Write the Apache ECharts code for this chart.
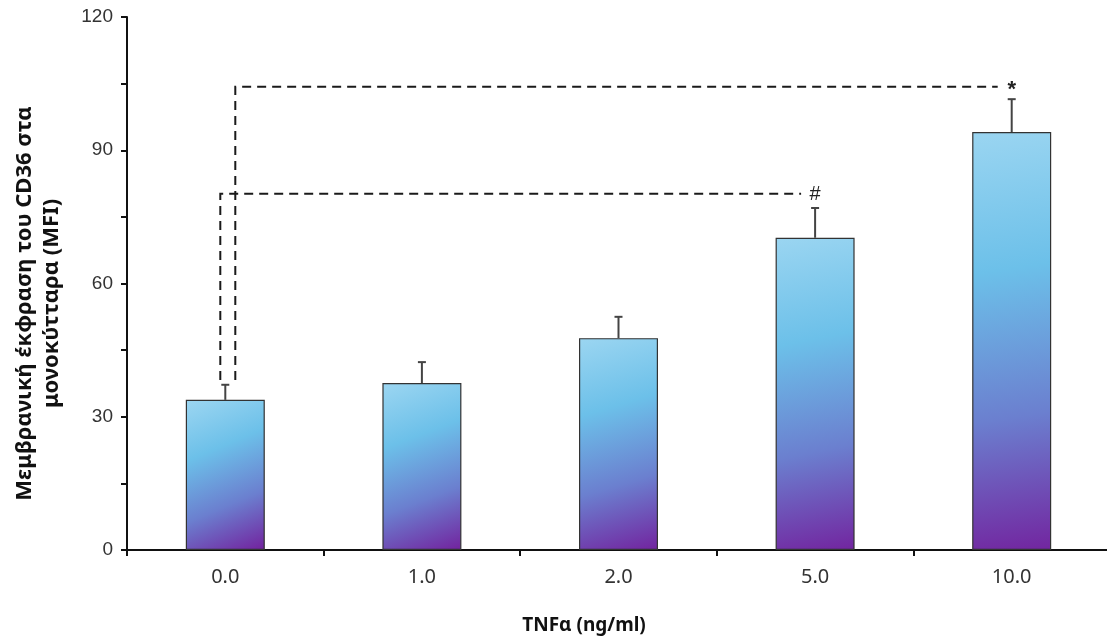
<!DOCTYPE html>
<html>
<head>
<meta charset="utf-8">
<script src="https://cdn.jsdelivr.net/npm/echarts@6/dist/echarts.min.js"></script>
<style>
  html, body { margin: 0; padding: 0; background: #fff; }
  #chart { width: 1107px; height: 638px; }
</style>
</head>
<body>
<div id="chart"></div>
<script>
// TNFα dose (ng/ml) vs CD36 membrane expression (MFI)
const doses = ['0.0', '1.0', '2.0', '5.0', '10.0'];
const means = [33.8, 37.6, 47.7, 70.3, 94.1];
const errors = [3.4, 4.7, 4.8, 6.7, 7.4];

// significance brackets, all starting from the 0.0 group
const bracketTo = [3, 4];
const bracketLevel = [80.2, 104.3];
const bracketBase = 38.3;
const bracketMarks = ['#', '*'];

const yTicks = [0, 30, 60, 90, 120];

const chart = echarts.init(document.getElementById('chart'));

const barGradient = new echarts.graphic.LinearGradient(0.1, 0, 0.9, 1, [
  { offset: 0, color: '#9ad5f1' },
  { offset: 0.33, color: '#6cc0e9' },
  { offset: 0.68, color: '#6b7fcf' },
  { offset: 1, color: '#7226a0' }
]);

const dashStyle = { stroke: '#1a1a1a', lineWidth: 2, lineDash: [9, 6], fill: null };

chart.setOption({
  animation: false,
  grid: { left: 127, top: 17, width: 983, bottom: 88, outerBoundsMode: 'none', containLabel: false },
  xAxis: {
    type: 'category',
    data: doses,
    name: 'TNFα (ng/ml)',
    nameLocation: 'middle',
    nameGap: 66,
    nameTextStyle: { fontFamily: 'Noto Sans', fontWeight: 'bold', fontSize: 19, color: '#111', padding: [0, 69, 0, 0] },
    axisLine: { lineStyle: { color: '#111', width: 2 } },
    axisTick: { show: true, length: 6, lineStyle: { color: '#111', width: 2 } },
    axisLabel: { fontFamily: 'Noto Sans', fontSize: 20, color: '#333', margin: 17 }
  },
  yAxis: {
    type: 'value',
    min: 0,
    max: 120,
    interval: 15,
    name: 'Μεμβρανική έκφραση του CD36 στα\nμονοκύτταρα (MFI)',
    nameLocation: 'middle',
    nameGap: 62,
    nameTextStyle: { fontFamily: 'Noto Sans', fontWeight: 'bold', fontSize: 22, color: '#111', lineHeight: 27, align: 'center', padding: [0, 40, 0, 0] },
    splitLine: { show: false },
    axisLine: { show: true, lineStyle: { color: '#111', width: 2 } },
    axisTick: { show: true, length: 6, lineStyle: { color: '#111', width: 2 } },
    axisLabel: {
      fontFamily: 'Liberation Sans', fontSize: 19, color: '#333', margin: 14,
      formatter: function (v) { return yTicks.indexOf(v) >= 0 ? String(v) : ''; }
    }
  },
  series: [
    {
      type: 'bar',
      data: means,
      barWidth: 79,
      itemStyle: { color: barGradient, borderColor: '#333', borderWidth: 1.2 },
      z: 2
    },
    {
      type: 'custom',
      z: 3,
      data: means.map(function (m, i) { return [i, m, m + errors[i]]; }),
      renderItem: function (params, api) {
        const top = api.coord([api.value(0), api.value(1)]);
        const hi = api.coord([api.value(0), api.value(2)]);
        const cap = 4;
        return {
          type: 'group',
          children: [
            { type: 'line', shape: { x1: top[0], y1: top[1], x2: hi[0], y2: hi[1] }, style: { stroke: '#444', lineWidth: 2 } },
            { type: 'line', shape: { x1: hi[0] - cap, y1: hi[1], x2: hi[0] + cap, y2: hi[1] }, style: { stroke: '#444', lineWidth: 2 } }
          ]
        };
      }
    },
    {
      type: 'custom',
      z: 4,
      data: bracketTo.map(function (t, i) { return [t, bracketLevel[i], i]; }),
      renderItem: function (params, api) {
        const k = api.value(2);
        const level = api.value(1);
        const start = api.coord([0, level]);
        const base = api.coord([0, bracketBase]);
        const end = api.coord([api.value(0), level]);
        const x0 = start[0] + (k === 0 ? -5 : 10);
        return {
          type: 'group',
          children: [
            { type: 'polyline', shape: { points: [[x0, base[1]], [x0, start[1]], [end[0] - 14, start[1]]] }, style: dashStyle },
            { type: 'text', style: { x: end[0], y: end[1] + (k === 0 ? 1 : 3), text: bracketMarks[k], textAlign: 'center', textVerticalAlign: 'middle', font: (k === 0 ? '20px' : 'bold 22px') + ' Liberation Sans', fill: '#222' } }
          ]
        };
      }
    }
  ]
});
</script>
</body>
</html>
